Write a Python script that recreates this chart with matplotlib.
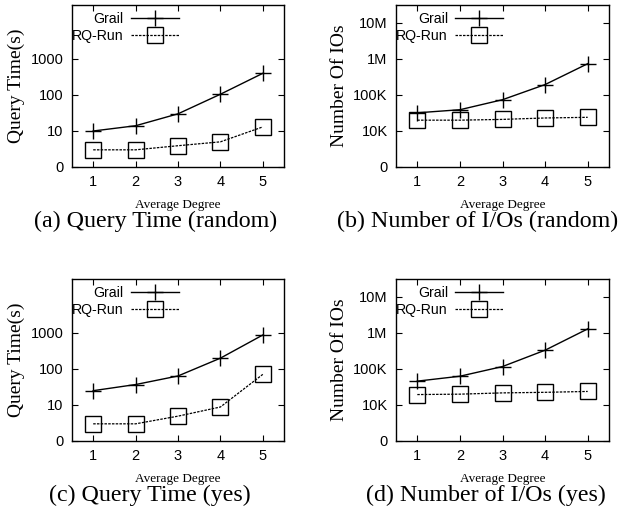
# Grail vs RQ-Run: query time and number of I/Os over average degree

import numpy as np
import matplotlib.pyplot as plt
from matplotlib.ticker import FixedLocator, FixedFormatter, NullLocator

degree = [1, 2, 3, 4, 5]

# (a) query time, random
grail_time_random = [10, 14, 30, 105, 400]
rq_time_random = [3, 3, 3.9, 5, 13]

# (b) number of I/Os, random
grail_io_random = [32000, 39000, 74000, 195000, 740000]
rq_io_random = [20000, 20000, 21000, 23000, 24000]

# (c) query time, yes
grail_time_yes = [25, 37, 64, 200, 880]
rq_time_yes = [3, 3, 4.9, 8.8, 71]

# (d) number of I/Os, yes
grail_io_yes = [46000, 63000, 117000, 333000, 1300000]
rq_io_yes = [19500, 20000, 21700, 22500, 23800]

time_ticks = [1, 10, 100, 1000]
time_labels = ['0', '10', '100', '1000']
io_ticks = [1e3, 1e4, 1e5, 1e6, 1e7]
io_labels = ['0', '10K', '100K', '1M', '10M']

sans = 'Liberation Sans'
serif = 'Liberation Serif'

fig = plt.figure(figsize=(6.22, 5.15), dpi=100)

W, H = 622, 515


def panel(box, grail, rq, ylim, ticks, labels, ylabel, caption, cap_x):
    x0, y0, x1, y1 = box
    ax = fig.add_axes([x0 / W, (H - y1) / H, (x1 - x0) / W, (y1 - y0) / H])
    ax.plot(degree, grail, color='black', lw=1.0, marker='+', ms=12, mew=1.0,
            label='Grail')
    ax.plot(degree, rq, color='black', lw=0.9, linestyle=(0, (2, 1)), marker='s',
            ms=11, mfc='none', mec='black', mew=1.0, label='RQ-Run')
    ax.set_yscale('log')
    ax.set_ylim(*ylim)
    ax.set_xlim(0.5, 5.5)
    ax.yaxis.set_major_locator(FixedLocator(ticks))
    ax.yaxis.set_major_formatter(FixedFormatter(labels))
    ax.yaxis.set_minor_locator(NullLocator())
    ax.set_xticks(degree)
    ax.tick_params(direction='in', top=True, right=True, length=4, width=0.8,
                   labelsize=10.5, pad=6)
    for t in ax.get_xticklabels() + ax.get_yticklabels():
        t.set_fontfamily(sans)
    for s in ax.spines.values():
        s.set_linewidth(1.0)
    ax.set_ylabel(ylabel, family=serif, fontsize=14, labelpad=4)
    ax.set_xlabel('Average Degree', family=serif, fontsize=9.5, labelpad=7)
    ax.legend(loc='upper right', bbox_to_anchor=(0.55, 1.02), frameon=False,
              markerfirst=False, handlelength=3.4, handletextpad=0.5,
              labelspacing=0.25, borderpad=0.2,
              prop={'family': sans, 'size': 10.2})
    fig.text(cap_x / W, (H - (y1 + 54)) / H, caption, family=serif, fontsize=17.3,
             ha='center', va='center')
    return ax


panel((72, 5, 284, 167), grail_time_random, rq_time_random, (1, 10 ** 4.5),
      time_ticks, time_labels, 'Query Time(s)', '(a) Query Time (random)', 156)
panel((396, 5, 609, 167), grail_io_random, rq_io_random, (1e3, 10 ** 7.5),
      io_ticks, io_labels, 'Number Of IOs', '(b) Number of I/Os (random)', 478)
panel((72, 279, 284, 441), grail_time_yes, rq_time_yes, (1, 10 ** 4.5),
      time_ticks, time_labels, 'Query Time(s)', '(c) Query Time (yes)', 150)
panel((396, 279, 609, 441), grail_io_yes, rq_io_yes, (1e3, 10 ** 7.5),
      io_ticks, io_labels, 'Number Of IOs', '(d) Number of I/Os (yes)', 486)

plt.savefig('out.png', dpi=100)
